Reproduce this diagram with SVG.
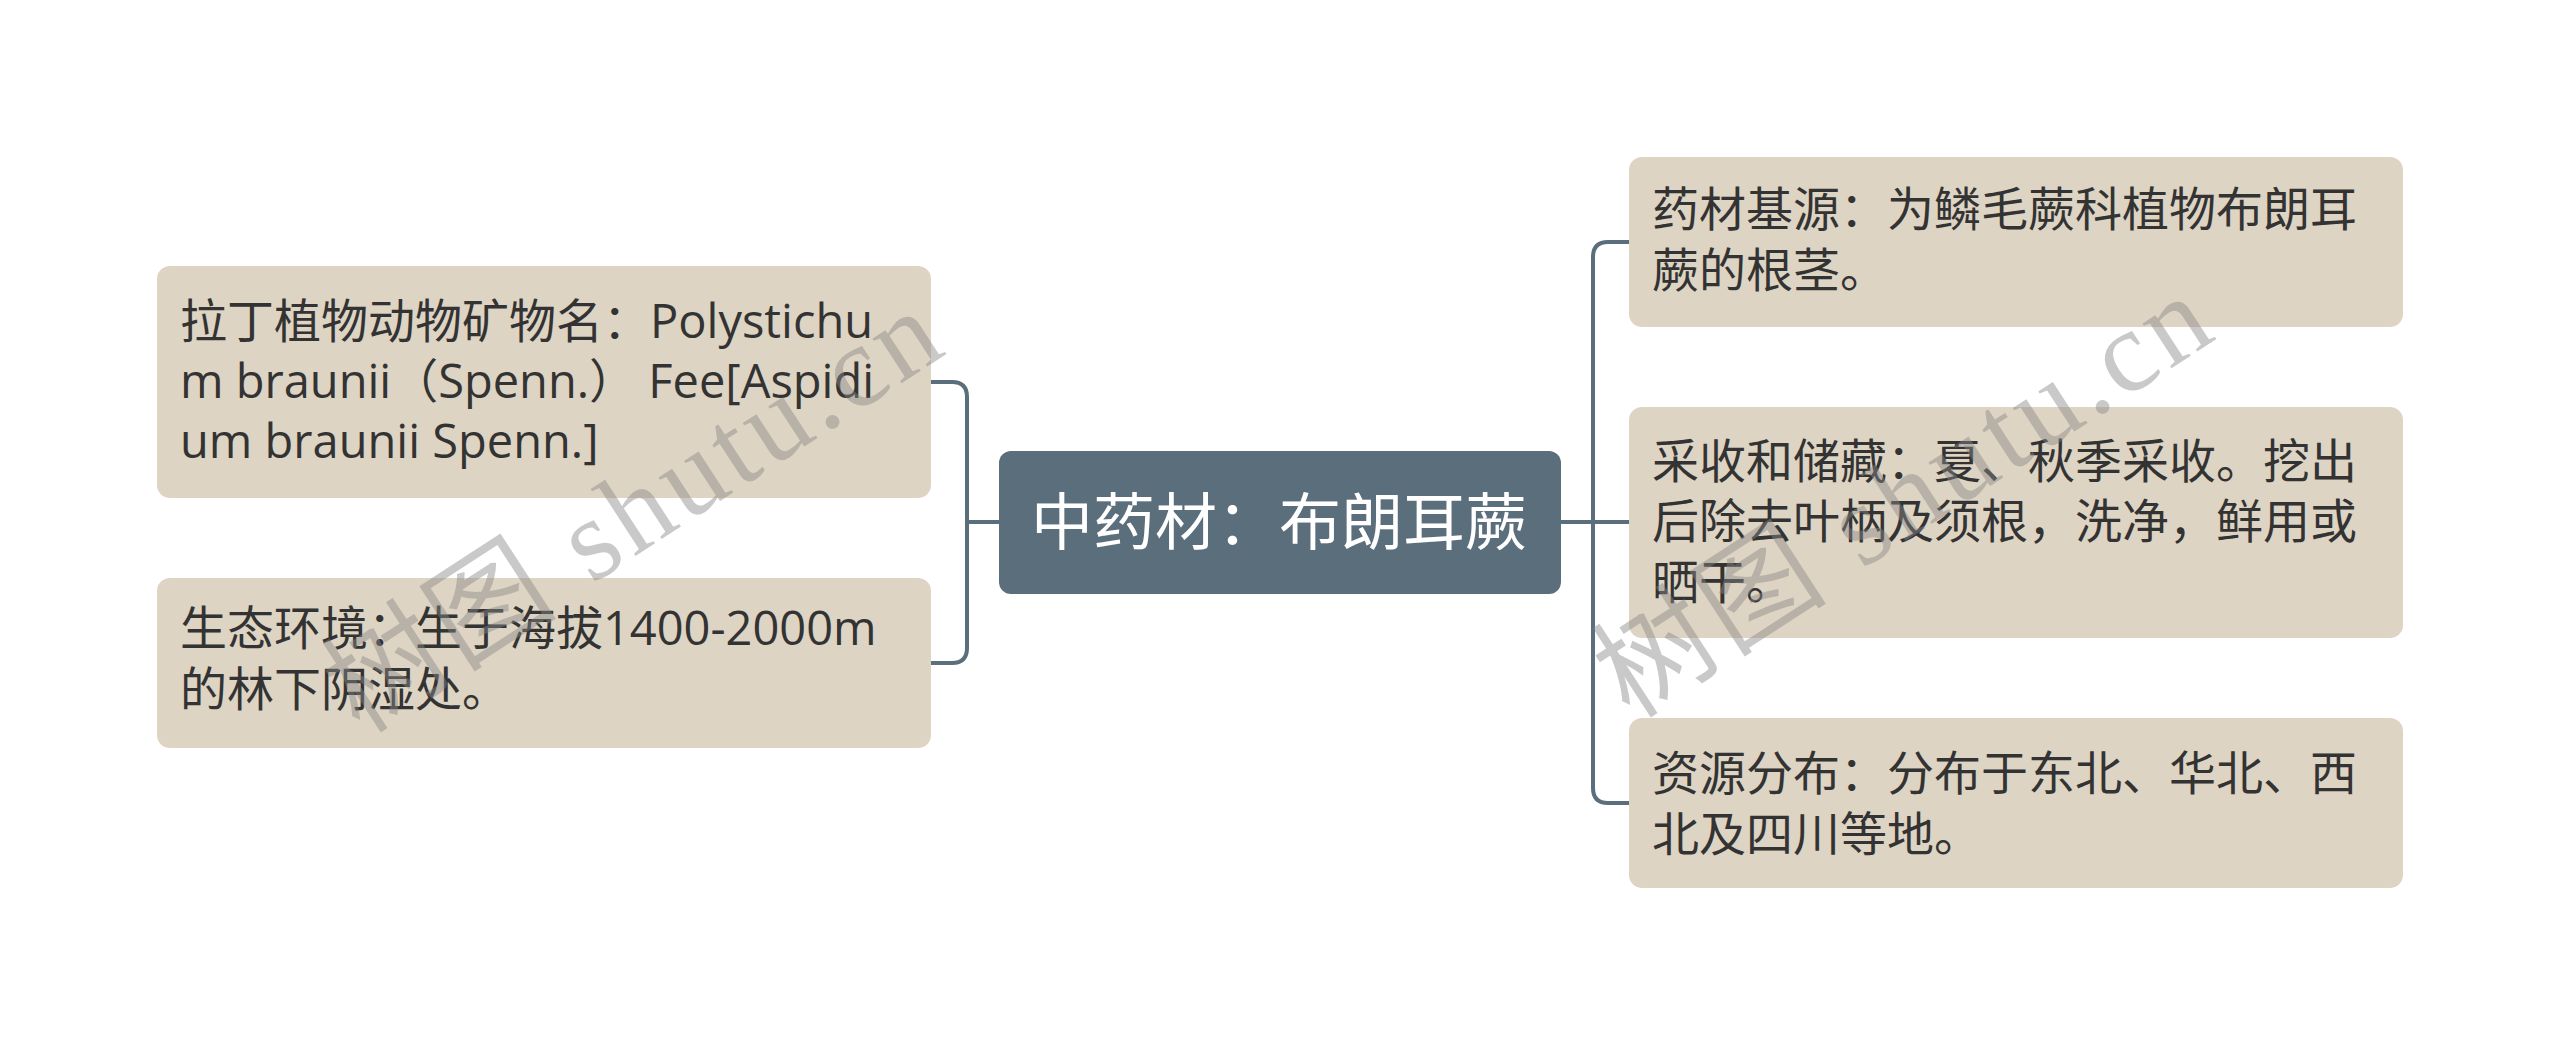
<svg xmlns="http://www.w3.org/2000/svg" width="2560" height="1046" viewBox="0 0 2560 1046">
<style>
.node{fill:#ded4c3;}
.center{fill:#5b6e7b;}
.t{font-family:"Open Sans","Noto Sans CJK SC",sans-serif;font-size:47px;fill:#333333;}
.ct{font-family:"Open Sans","Noto Sans CJK SC",sans-serif;font-size:62px;fill:#ffffff;}
.conn{fill:none;stroke:#5b6e7b;stroke-width:4;}
.wm{font-family:"Liberation Serif","Noto Sans CJK SC",serif;font-size:116px;fill:#888888;fill-opacity:0.45;letter-spacing:5px;}
</style>
<rect width="2560" height="1046" fill="#ffffff"/>
<g id="connectors">
<path class="conn" d="M999,522 H967"/>
<path class="conn" d="M931,382 H952 Q967,382 967,397 V648 Q967,663 952,663 H931"/>
<path class="conn" d="M1561,522 H1629"/>
<path class="conn" d="M1629,242 H1608 Q1593,242 1593,257 V788 Q1593,803 1608,803 H1629"/>
</g>
<g id="center">
<rect class="center" x="999" y="451" width="562" height="143" rx="12"/>
<text class="ct" x="1031" y="545">中药材：布朗耳蕨</text>
</g>
<g id="left1">
<rect class="node" x="157" y="266" width="774" height="232" rx="13"/>
<text class="t"><tspan x="180" y="338">拉丁植物动物矿物名：Polystichu</tspan><tspan x="180" y="398">m braunii（Spenn.） Fee[Aspidi</tspan><tspan x="180" y="458">um braunii Spenn.]</tspan></text>
</g>
<g id="left2">
<rect class="node" x="157" y="578" width="774" height="170" rx="13"/>
<text class="t"><tspan x="180" y="645">生态环境：生于海拔1400-2000m</tspan><tspan x="180" y="706">的林下阴湿处。</tspan></text>
</g>
<g id="right1">
<rect class="node" x="1629" y="157" width="774" height="170" rx="13"/>
<text class="t"><tspan x="1652" y="226">药材基源：为鳞毛蕨科植物布朗耳</tspan><tspan x="1652" y="287">蕨的根茎。</tspan></text>
</g>
<g id="right2">
<rect class="node" x="1629" y="407" width="774" height="231" rx="13"/>
<text class="t"><tspan x="1652" y="478">采收和储藏：夏、秋季采收。挖出</tspan><tspan x="1652" y="538">后除去叶柄及须根，洗净，鲜用或</tspan><tspan x="1652" y="599">晒干。</tspan></text>
</g>
<g id="right3">
<rect class="node" x="1629" y="718" width="774" height="170" rx="13"/>
<text class="t"><tspan x="1652" y="790">资源分布：分布于东北、华北、西</tspan><tspan x="1652" y="851">北及四川等地。</tspan></text>
</g>
<g id="watermarks">
<text class="wm" transform="translate(360,735) rotate(-33)">树图 shutu.cn</text>
<text class="wm" transform="translate(1630,720) rotate(-33)">树图 shutu.cn</text>
</g>
</svg>
